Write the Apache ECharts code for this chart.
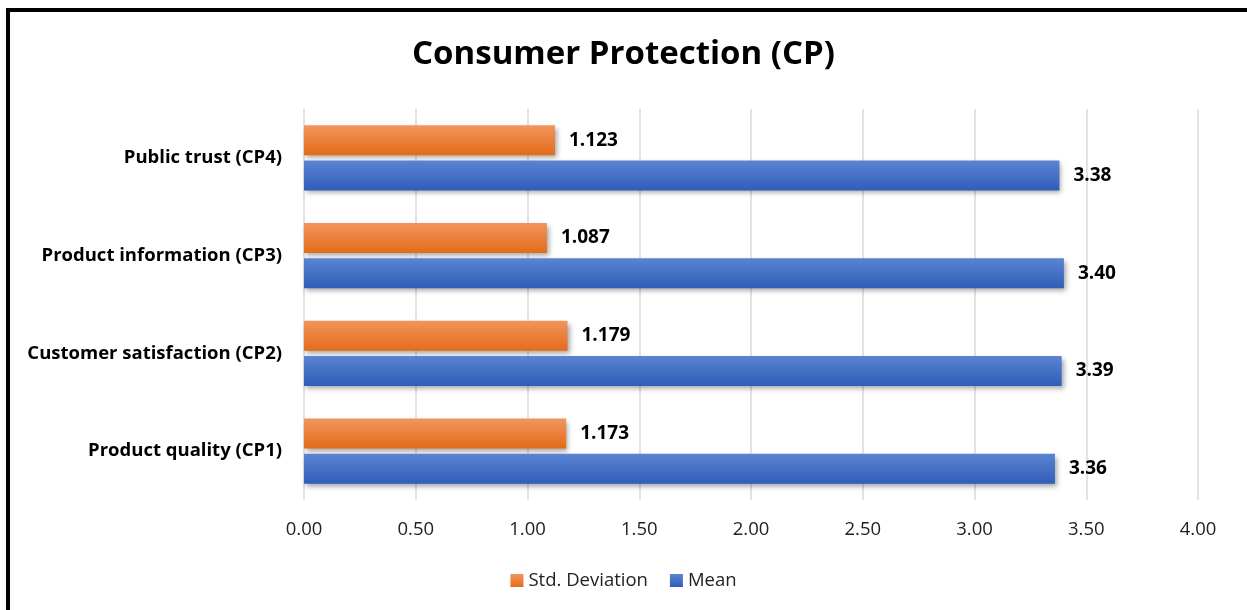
<!DOCTYPE html>
<html>
<head>
<meta charset="utf-8">
<script src="https://cdn.jsdelivr.net/npm/echarts@6/dist/echarts.min.js"></script>
<style>
  html, body { margin: 0; padding: 0; background: #fff; }
  #frame {
    position: absolute; left: 6px; top: 8px; width: 1300px; height: 700px;
    border-left: 4px solid #000; border-top: 4px solid #000; box-sizing: border-box;
  }
  #chart { position: absolute; left: 0; top: 0; width: 1247px; height: 610px; }
</style>
</head>
<body>
<div id="frame"></div>
<div id="chart"></div>
<script>
// Items, listed bottom to top on the category axis
const categories = [
  'Product quality (CP1)',
  'Customer satisfaction (CP2)',
  'Product information (CP3)',
  'Public trust (CP4)'
];
const meanValues = [3.36, 3.39, 3.40, 3.38];
const stdValues = [1.173, 1.179, 1.087, 1.123];
const xTicks = [0, 0.5, 1, 1.5, 2, 2.5, 3, 3.5, 4];

const FONT = '"Open Sans", "Noto Sans", sans-serif';

function grad(top, bottom) {
  return new echarts.graphic.LinearGradient(0, 0, 0, 1, [
    { offset: 0, color: top },
    { offset: 1, color: bottom }
  ]);
}

const shadow = {
  shadowBlur: 5,
  shadowOffsetX: 2,
  shadowOffsetY: 3,
  shadowColor: 'rgba(0,0,0,0.35)'
};

function valueLabel(digits) {
  return {
    show: true,
    position: 'right',
    distance: 14,
    formatter: p => p.value.toFixed(digits),
    fontFamily: FONT,
    fontWeight: 'bold',
    fontSize: 19,
    color: '#000'
  };
}

const chart = echarts.init(document.getElementById('chart'), null, { renderer: 'canvas' });
chart.setOption({
  animation: false,
  backgroundColor: 'transparent',
  title: {
    text: 'Consumer Protection (CP)',
    left: 'center',
    top: 33,
    textStyle: { fontFamily: FONT, fontWeight: 'bold', fontSize: 33, color: '#000' }
  },
  legend: {
    data: ['Std. Deviation', 'Mean'],
    bottom: 15,
    left: 'center',
    itemWidth: 13,
    itemHeight: 13,
    itemGap: 22,
    icon: 'rect',
    textStyle: { fontFamily: FONT, fontSize: 18.5, color: '#222' }
  },
  grid: { left: 304, right: 49, top: 109, height: 391, containLabel: false },
  xAxis: {
    type: 'value',
    min: 0,
    max: 4,
    interval: 0.5,
    axisLine: { show: false },
    axisTick: { show: false },
    splitLine: { show: true, lineStyle: { color: '#d9d9d9', width: 1.5 } },
    axisLabel: {
      margin: 20,
      fontFamily: FONT,
      fontSize: 18.5,
      color: '#222',
      formatter: v => xTicks.includes(v) ? v.toFixed(2) : ''
    }
  },
  yAxis: {
    type: 'category',
    data: categories,
    axisLine: { show: false },
    axisTick: { show: false },
    axisLabel: {
      margin: 22,
      fontFamily: FONT,
      fontWeight: 'bold',
      fontSize: 18.5,
      color: '#000'
    }
  },
  series: [
    {
      name: 'Std. Deviation',
      type: 'bar',
      data: stdValues,
      barWidth: 30,
      barGap: '17%',
      barCategoryGap: '33%',
      itemStyle: Object.assign({ color: grad('#f2955d', '#e36b19') }, shadow),
      label: valueLabel(3)
    },
    {
      name: 'Mean',
      type: 'bar',
      data: meanValues,
      barWidth: 30,
      barGap: '17%',
      barCategoryGap: '33%',
      itemStyle: Object.assign({ color: grad('#5b84d2', '#2f5db8') }, shadow),
      label: valueLabel(2)
    }
  ]
});
</script>
</body>
</html>
